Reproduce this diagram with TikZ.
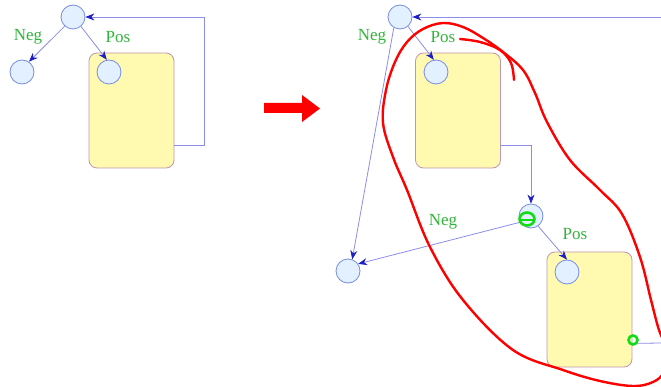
\documentclass[tikz,border=0pt]{standalone}
\usepackage{fontspec}
\setmainfont{Liberation Serif}
\usetikzlibrary{arrows.meta}
\definecolor{cfill}{RGB}{226,240,255}
\definecolor{cdraw}{RGB}{120,140,225}
\definecolor{lblue}{RGB}{140,140,235}
\definecolor{tipblue}{RGB}{30,30,200}
\definecolor{boxfill}{RGB}{255,250,175}
\definecolor{boxdraw}{RGB}{190,150,175}
\definecolor{lblgreen}{RGB}{50,180,60}
\definecolor{mkgreen}{RGB}{20,220,20}
\tikzset{
 state/.style={circle, draw=cdraw, fill=cfill, minimum size=24pt, inner sep=0pt, line width=0.8pt},
 block/.style={draw=boxdraw, fill=boxfill, rounded corners=8pt, minimum width=85pt, minimum height=115pt, inner sep=0pt, line width=0.8pt},
 conn/.style={draw=lblue, line width=0.8pt},
 arr/.style={conn, -{Stealth[length=9pt,width=7pt,color=tipblue]}},
 lbl/.style={text=lblgreen, font=\fontsize{17}{17}\selectfont, inner sep=0pt},
 redmark/.style={draw=red, line width=2.4pt, line cap=round, line join=round},
 greenmark/.style={draw=mkgreen, line width=2.6pt, line cap=round}
}
\begin{document}
\begin{tikzpicture}[x=1pt,y=-1pt]
\useasboundingbox (0,0) rectangle (661,387);
\clip (0,0) rectangle (661,387);
% ---------- left ----------
\node[block] (b1) at (131.5,110.5) {};
\node[state] (t1) at (73,17) {};
\node[state] (l1) at (22,72) {};
\node[state] (c1) at (109,72) {};
\node[lbl] (n1) at (28,37) {Neg};
\node[lbl] (p1) at (118,37) {Pos};
\coordinate (k1) at (204,17);
\draw[arr] (t1.228) -- (l1.56);
\draw[arr] (t1.310) -- (c1.100);
\draw[arr] ([yshift=23pt]b1.south east) -| (k1) -- (t1);
% ---------- big arrow ----------
\fill[red] (264,103) -- (302,103) -- (302,95) -- (320,108.5) -- (302,122) -- (302,113) -- (264,113) -- cycle;
% ---------- right ----------
\node[block] (b2) at (458,110.5) {};
\node[state] (t2) at (400,17) {};
\node[state] (c2) at (436,72) {};
\node[state] (m) at (531,216) {};
\node[state] (l2) at (348,271) {};
\node[block] (b3) at (589.5,309.5) {};
\node[state] (c3) at (567,272) {};
\node[lbl] (n2) at (372,37) {Neg};
\node[lbl] (p2) at (443,37) {Pos};
\node[lbl] (n3) at (443,222) {Neg};
\node[lbl] (p3) at (575,234) {Pos};
\coordinate (e1) at (661,17);
\coordinate (e2) at (661,343);
\draw[arr] (e1) -- (t2);
\draw[arr] (t2.240) -- (l2.70);
\draw[arr] (t2.310) -- (c2.100);
\draw[arr] ([yshift=23pt]b2.south east) -| (m);
\draw[arr] (m.210) -- (l2.35);
\draw[arr] (m.-55) -- (c3.north);
\draw[conn] ([yshift=24pt]b3.south east) -- (e2);
% ---------- hand marks ----------
\draw[redmark] plot[smooth cycle, tension=0.6] coordinates {(383,123) (386,90) (395,62) (407,42) (423,29) (443,23) (463,27) (483,38) (503,52) (523,70) (535,93) (547,122) (570,160) (600,190) (622,214) (640,257) (651,300) (659,330) (668,352) (664,372) (653,382) (633,386) (600,381) (563,370) (513,350) (463,300) (430,247) (407,190) (393,157)};
\draw[redmark] plot[smooth, tension=0.6] coordinates {(460,39) (480,42) (500,50) (511,63) (514,80)};
\draw[greenmark] (527,219) ellipse [x radius=7.5, y radius=6.5];
\draw[greenmark] (520,220) -- (534,220);
\draw[greenmark] (633,340) circle [radius=4.5];
\end{tikzpicture}
\end{document}
